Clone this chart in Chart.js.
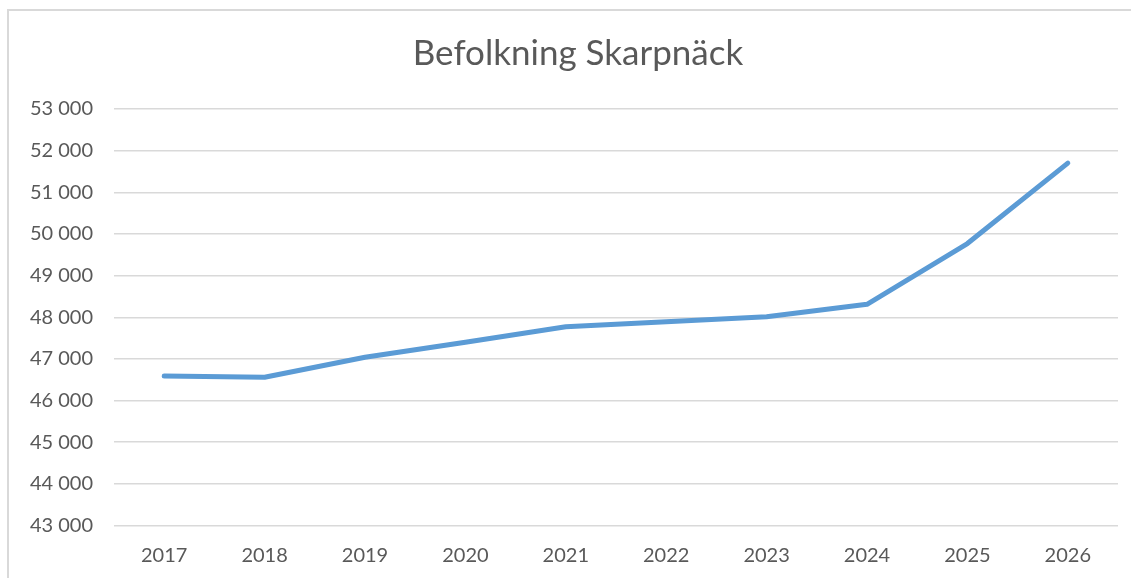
<!DOCTYPE html>
<html>
<head>
<meta charset="utf-8">
<script src="https://cdn.jsdelivr.net/npm/chart.js@4.4.1/dist/chart.umd.min.js"></script>
<style>
  html, body { margin: 0; padding: 0; background: #ffffff; }
  #wrap { position: relative; width: 1131px; height: 578px; }
  canvas { display: block; }
</style>
</head>
<body>
<div id="wrap"><canvas id="c" width="1131" height="578"></canvas></div>
<script>
const chartTitle = 'Befolkning Skarpnäck';
const years = ['2017', '2018', '2019', '2020', '2021', '2022', '2023', '2024', '2025', '2026'];
const population = [46590, 46560, 47040, 47400, 47770, 47890, 48010, 48310, 49770, 51700];
const yMin = 43000;
const yMax = 53000;
const yStep = 1000;

function fmt(v) {
  return String(v).replace(/\B(?=(\d{3})+(?!\d))/g, ' ');
}

const borderPlugin = {
  id: 'outerBorder',
  afterLayout(chart) {
    if (chart.titleBlock) {
      chart.titleBlock.left += 38;
    }
  },
  beforeDraw(chart) {
    const ctx = chart.ctx;
    ctx.save();
    ctx.fillStyle = '#ffffff';
    ctx.fillRect(0, 0, chart.width, chart.height);
    ctx.strokeStyle = '#d9d9d9';
    ctx.lineWidth = 2;
    ctx.beginPath();
    ctx.moveTo(8, chart.height + 5);
    ctx.lineTo(8, 10);
    ctx.lineTo(chart.width + 5, 10);
    ctx.stroke();
    ctx.restore();
  }
};

new Chart(document.getElementById('c'), {
  type: 'line',
  data: {
    labels: years,
    datasets: [{
      label: chartTitle,
      data: population,
      borderColor: '#5b9bd5',
      backgroundColor: '#5b9bd5',
      borderWidth: 5,
      borderCapStyle: 'round',
      borderJoinStyle: 'round',
      pointRadius: 0,
      pointHoverRadius: 0,
      tension: 0,
      fill: false
    }]
  },
  options: {
    responsive: false,
    animation: false,
    devicePixelRatio: 1,
    layout: { padding: { top: 0, right: 13, bottom: 0, left: 0 } },
    plugins: {
      legend: { display: false },
      tooltip: { enabled: false },
      title: {
        display: true,
        text: chartTitle,
        color: '#595959',
        font: { family: 'Lato', size: 35, weight: 'normal' },
        padding: { top: 33, bottom: 34 }
      }
    },
    scales: {
      x: {
        type: 'category',
        offset: true,
        grid: { display: false, drawTicks: false },
        border: { display: false },
        ticks: {
          color: '#595959',
          font: { family: 'Lato', size: 20 },
          padding: 18,
          maxRotation: 0
        },
        afterFit(scale) { scale.height = 52.5; }
      },
      y: {
        min: yMin,
        max: yMax,
        grid: { color: '#d9d9d9', lineWidth: 1.5, drawTicks: false },
        border: { display: false },
        ticks: {
          stepSize: yStep,
          color: '#595959',
          font: { family: 'Lato', size: 20 },
          padding: 21,
          callback: (v) => fmt(v)
        },
        afterFit(scale) { scale.width = 114; }
      }
    }
  },
  plugins: [borderPlugin]
});
</script>
</body>
</html>
